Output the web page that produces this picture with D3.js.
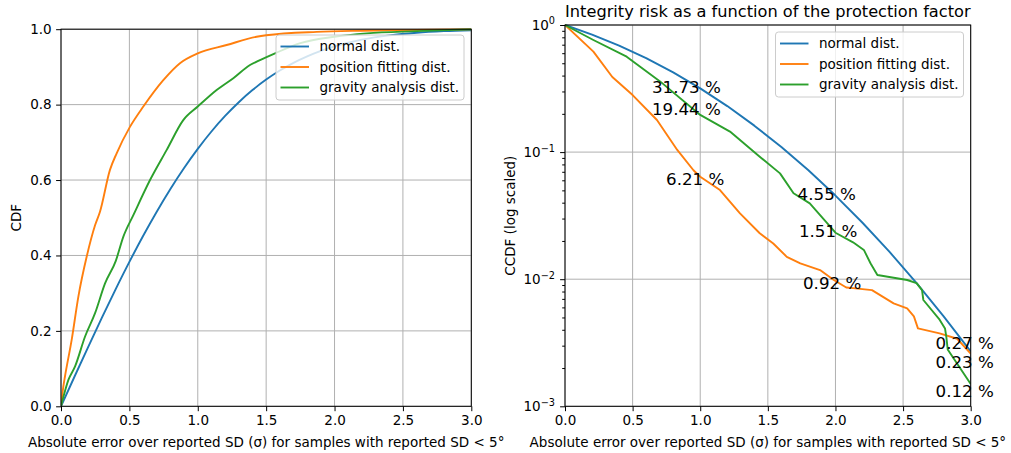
<!DOCTYPE html>
<html>
<head>
<meta charset="utf-8">
<script src="https://cdn.jsdelivr.net/npm/d3@7"></script>
<style>
  body { margin: 0; background: #fff; }
  text { font-family: "DejaVu Sans", sans-serif; fill: #000; }
</style>
</head>
<body>
<svg id="chart" width="1011" height="453"></svg>
<script>
// ---- data ----
const seriesNames = ["normal dist.", "position fitting dist.", "gravity analysis dist."];
const colors = ["#1f77b4", "#ff7f0e", "#2ca02c"];

// left: CDF
const normX = [0, 0.1, 0.2, 0.3, 0.4, 0.5, 0.6, 0.7, 0.8, 0.9, 1.0, 1.1, 1.2, 1.3, 1.4, 1.5, 1.6, 1.7, 1.8, 1.9, 2.0, 2.2, 2.4, 2.6, 2.8, 3.0];
const normCdf = [0, 0.0797, 0.1585, 0.2358, 0.3108, 0.3829, 0.4515, 0.5161, 0.5763, 0.6319, 0.6827, 0.7287, 0.7699, 0.8064, 0.8385, 0.8664, 0.8904, 0.9109, 0.9281, 0.9426, 0.9545, 0.9722, 0.9836, 0.9907, 0.9949, 0.9973];

const posX = [0, 0.017, 0.029, 0.078, 0.127, 0.188, 0.249, 0.285, 0.358, 0.407, 0.504, 0.602, 0.748, 0.87, 1.0, 1.211, 1.43, 1.5, 1.87, 2.2, 2.6, 3.0];
const posCdf = [0, 0.052, 0.079, 0.176, 0.291, 0.397, 0.48, 0.516, 0.627, 0.671, 0.741, 0.795, 0.865, 0.91, 0.936, 0.958, 0.98, 0.984, 0.993, 0.996, 0.998, 1.0];

const gravX = [0, 0.054, 0.102, 0.176, 0.249, 0.322, 0.4, 0.456, 0.529, 0.651, 0.773, 0.894, 1.0, 1.138, 1.26, 1.382, 1.455, 1.565, 1.75, 2.0, 2.235, 2.6, 3.0];
const gravCdf = [0, 0.07, 0.105, 0.185, 0.247, 0.326, 0.385, 0.45, 0.507, 0.6, 0.68, 0.759, 0.795, 0.839, 0.87, 0.905, 0.918, 0.936, 0.963, 0.98, 0.989, 0.995, 1.0];

// right: CCDF (log)
const normXr = [0, 0.2, 0.4, 0.6, 0.8, 1.0, 1.2, 1.4, 1.6, 1.8, 2.0, 2.2, 2.4, 2.6, 2.8, 3.0];
const normCcdf = [1, 0.8415, 0.6892, 0.5485, 0.4237, 0.3173, 0.2301, 0.1615, 0.1096, 0.0719, 0.0455, 0.0278, 0.0164, 0.0093, 0.0051, 0.0027];

const posXr = [0, 0.21, 0.35, 0.5, 0.68, 0.83, 0.95, 1.0, 1.146, 1.294, 1.44, 1.54, 1.64, 1.74, 1.886, 1.985, 2.08, 2.13, 2.27, 2.43, 2.53, 2.58, 2.61, 2.77, 2.90, 3.0];
const posCcdf = [1, 0.617, 0.39, 0.281, 0.179, 0.104, 0.072, 0.064, 0.0503, 0.033, 0.023, 0.0191, 0.015, 0.0133, 0.0118, 0.0099, 0.0086, 0.0085, 0.0082, 0.00646, 0.0059, 0.0051, 0.0041, 0.00375, 0.0034, 0.0026];

const gravXr = [0, 0.21, 0.456, 0.703, 1.0, 1.22, 1.44, 1.59, 1.69, 1.81, 1.94, 2.0, 2.13, 2.21, 2.26, 2.31, 2.53, 2.60, 2.64, 2.65, 2.77, 2.81, 2.82, 2.83, 3.0];
const gravCcdf = [1, 0.762, 0.563, 0.36, 0.196, 0.145, 0.092, 0.068, 0.0474, 0.0395, 0.0275, 0.0232, 0.0195, 0.017, 0.0133, 0.0108, 0.00986, 0.0093, 0.0082, 0.00686, 0.0048, 0.0041, 0.0035, 0.0028, 0.0015];

// annotations (text, x, y in data units)
const noteText = ["31.73 %", "19.44 %", "6.21 %", "4.55 %", "1.51 %", "0.92 %", "0.27 %", "0.23 %", "0.12 %"];
const noteX = [0.643, 0.643, 0.747, 1.72, 1.73, 1.76, 2.74, 2.74, 2.74];
const noteY = [0.2917, 0.196, 0.0551, 0.042, 0.0215, 0.00833, 0.00282, 0.0020, 0.00118];

const xTicks = [0, 0.5, 1.0, 1.5, 2.0, 2.5, 3.0];
const yTicksLeft = [0, 0.2, 0.4, 0.6, 0.8, 1.0];
const yTicksRight = [1e-3, 1e-2, 1e-1, 1];

const xLabel = "Absolute error over reported SD (σ) for samples with reported SD < 5°";
const title = "Integrity risk as a function of the protection factor";

// ---- drawing ----
const svg = d3.select("#chart");
const FS = 13.5;

function zip(xs, ys) { return xs.map((x, i) => [x, ys[i]]); }

function styleAxis(g) {
  g.select(".domain").remove();
  g.selectAll(".tick line").attr("stroke", "#000").attr("stroke-width", 1);
  g.selectAll(".tick text").style("font-size", FS + "px").style("font-family", "DejaVu Sans");
}

function panel(root, box, y, series, opts) {
  const x = d3.scaleLinear().domain([0, 3]).range([box.x0, box.x1]);

  // grid
  const grid = root.append("g");
  grid.selectAll(".gx").data(xTicks).join("line")
    .attr("x1", d => x(d)).attr("x2", d => x(d))
    .attr("y1", box.y0).attr("y2", box.y1)
    .attr("stroke", "#b0b0b0").attr("stroke-width", 1);
  grid.selectAll(".gy").data(opts.yTicks).join("line")
    .attr("x1", box.x0).attr("x2", box.x1)
    .attr("y1", d => y(d)).attr("y2", d => y(d))
    .attr("stroke", "#b0b0b0").attr("stroke-width", 1);

  // lines
  const clipId = "clip" + opts.id;
  root.append("clipPath").attr("id", clipId).append("rect")
    .attr("x", box.x0).attr("y", box.y0 - 1)
    .attr("width", box.x1 - box.x0).attr("height", box.y1 - box.y0 + 2);
  const line = d3.line().x(d => x(d[0])).y(d => y(d[1])).curve(opts.curve);
  const lg = root.append("g").attr("clip-path", `url(#${clipId})`);
  series.forEach((s, i) => {
    lg.append("path").datum(s).attr("d", line)
      .attr("fill", "none").attr("stroke", colors[i])
      .attr("stroke-width", 1.9).attr("stroke-linejoin", "round");
  });

  // axes
  const ax = root.append("g").attr("transform", `translate(0,${box.y1})`)
    .call(d3.axisBottom(x).tickValues(xTicks).tickFormat(d3.format(".1f")).tickSize(4.9).tickPadding(4.5));
  styleAxis(ax);

  const ay = root.append("g").attr("transform", `translate(${box.x0},0)`);
  if (opts.log) {
    const minor = y.ticks().filter(v => Math.abs(Math.log10(v) - Math.round(Math.log10(v))) > 1e-6);
    ay.call(d3.axisLeft(y).tickValues(minor).tickSize(2.8).tickFormat(""));
    const major = root.append("g").attr("transform", `translate(${box.x0},0)`)
      .call(d3.axisLeft(y).tickValues(opts.yTicks).tickSize(4.9).tickPadding(4.5).tickFormat(""));
    styleAxis(major);
    major.selectAll(".tick").append("text")
      .attr("x", -10).attr("dy", "0.32em").attr("text-anchor", "end")
      .style("font-size", FS + "px")
      .each(function (d) {
        const t = d3.select(this);
        t.append("tspan").text("10");
        t.append("tspan").attr("dy", "-0.55em").style("font-size", (FS * 0.72) + "px")
          .text(String(Math.round(Math.log10(d))).replace("-", "\u2212"));
      });
  } else {
    ay.call(d3.axisLeft(y).tickValues(opts.yTicks).tickFormat(d3.format(".1f")).tickSize(4.9).tickPadding(4.5));
  }
  styleAxis(ay);

  // spines
  root.append("rect").attr("x", box.x0).attr("y", box.y0)
    .attr("width", box.x1 - box.x0).attr("height", box.y1 - box.y0)
    .attr("fill", "none").attr("stroke", "#000").attr("stroke-width", 1);

  // labels
  root.append("text").attr("x", (box.x0 + box.x1) / 2).attr("y", 446.5)
    .attr("text-anchor", "middle").style("font-size", FS + "px").text(xLabel);
  root.append("text")
    .attr("transform", `translate(${opts.ylabelX},${(box.y0 + box.y1) / 2}) rotate(-90)`)
    .attr("text-anchor", "middle").attr("dy", "0.35em").style("font-size", FS + "px").text(opts.ylabel);

  return x;
}

function legend(root, lx, ly) {
  const g = root.append("g");
  g.append("rect").attr("x", lx).attr("y", ly).attr("width", 188).attr("height", 65)
    .attr("rx", 3).attr("fill", "#fff").attr("fill-opacity", 0.8)
    .attr("stroke", "#cccccc").attr("stroke-width", 1);
  seriesNames.forEach((n, i) => {
    const yy = ly + 11.5 + i * 20.5;
    g.append("line").attr("x1", lx + 4.5).attr("x2", lx + 33).attr("y1", yy).attr("y2", yy)
      .attr("stroke", colors[i]).attr("stroke-width", 1.9);
    g.append("text").attr("x", lx + 43.5).attr("y", yy).attr("dy", "0.35em")
      .style("font-size", FS + "px").text(n);
  });
}

// left panel
const leftBox = { x0: 61, x1: 471.3, y0: 29.2, y1: 406.3 };
svg.append("clipPath").attr("id", "leftFig").append("rect")
  .attr("x", 0).attr("y", 0).attr("width", 504).attr("height", 453);
const left = svg.append("g").attr("clip-path", "url(#leftFig)");
const yL = d3.scaleLinear().domain([0, 1]).range([leftBox.y1, leftBox.y0]);
panel(left, leftBox, yL,
  [zip(normX, normCdf), zip(posX, posCdf), zip(gravX, gravCdf)],
  { id: "L", yTicks: yTicksLeft, log: false, ylabel: "CDF", ylabelX: 16, curve: d3.curveMonotoneX });
legend(left, 276, 35);

// right panel
const rightBox = { x0: 565, x1: 970.7, y0: 25, y1: 406.3 };
const right = svg.append("g");
const yR = d3.scaleLog().domain([1e-3, 1]).range([rightBox.y1, rightBox.y0]);
const xR = panel(right, rightBox, yR,
  [zip(normXr, normCcdf), zip(posXr, posCcdf), zip(gravXr, gravCcdf)],
  { id: "R", yTicks: yTicksRight, log: true, ylabel: "CCDF (log scaled)", ylabelX: 510, curve: d3.curveLinear });
legend(right, 775.5, 32);

right.selectAll(".note").data(noteText).join("text")
  .attr("x", (d, i) => xR(noteX[i])).attr("y", (d, i) => yR(noteY[i]))
  .style("font-size", "16.7px").text(d => d);

right.append("text").attr("x", (rightBox.x0 + rightBox.x1) / 2).attr("y", 17)
  .attr("text-anchor", "middle").style("font-size", "16.2px").text(title);
</script>
</body>
</html>
